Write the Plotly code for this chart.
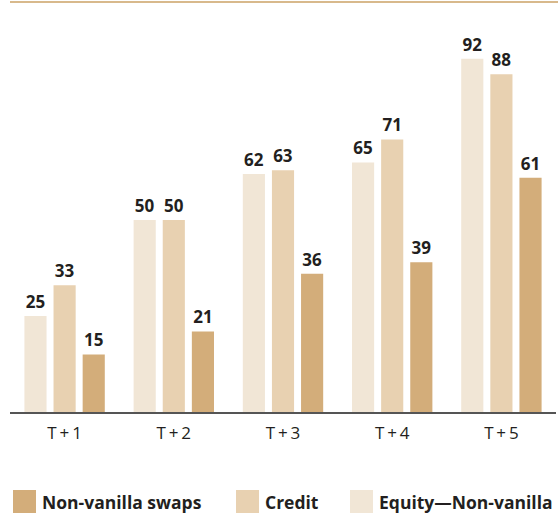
import plotly.graph_objects as go

categories = ["T\u2006+\u20061", "T\u2006+\u20062", "T\u2006+\u20063", "T\u2006+\u20064", "T\u2006+\u20065"]
equity = [25, 50, 62, 65, 92]
credit = [33, 50, 63, 71, 88]
nonvanilla = [15, 21, 36, 39, 61]

series = [
    ("Equity\u2014Non-vanilla", equity, "#F1E6D6"),
    ("Credit", credit, "#E8D1B1"),
    ("Non-vanilla swaps", nonvanilla, "#D3AD7A"),
]

fig = go.Figure()
for name, vals, col in series:
    fig.add_trace(go.Bar(
        x=categories, y=vals, name=name, marker=dict(color=col, line=dict(width=0)),
        text=[str(v) for v in vals], textposition="outside",
        textfont=dict(family="Open Sans", size=17, color="#231F20", weight="bold"),
        cliponaxis=False, showlegend=False,
    ))

W, H = 560, 513
ml, mr, mt, mb = 10, 4, 2, 101
pw = W - ml - mr
ph = H - mt - mb

def px2x(px):
    return (px - ml) / pw

def px2y(py):
    return (H - mb - py) / ph

shapes = [
    dict(type="line", xref="paper", yref="paper", x0=px2x(10), x1=px2x(558), y0=px2y(2), y1=px2y(2),
         line=dict(color="#D8B98C", width=2)),
]
annotations = []
legend_items = [(series[2][0], series[2][2], 13), (series[1][0], series[1][2], 236), (series[0][0], series[0][2], 350)]
for name, col, lx in legend_items:
    shapes.append(dict(type="rect", xref="paper", yref="paper", x0=px2x(lx), x1=px2x(lx + 23),
                       y0=px2y(514), y1=px2y(490), line=dict(width=0), fillcolor=col))
    annotations.append(dict(xref="paper", yref="paper", x=px2x(lx + 27), y=px2y(502), text="<b>" + name + "</b>",
                            showarrow=False, xanchor="left", yanchor="middle",
                            font=dict(family="Open Sans", size=17.5, color="#231F20")))

fig.update_layout(
    width=W, height=H, margin=dict(l=ml, r=mr, t=mt, b=mb),
    paper_bgcolor="white", plot_bgcolor="white",
    barmode="group", bargap=0.2, bargroupgap=0.24,
    xaxis=dict(showgrid=False, showline=True, linecolor="#555555", linewidth=1.5, ticks="",
               tickfont=dict(family="Open Sans", size=17, color="#231F20"), ticklabelstandoff=5),
    yaxis=dict(range=[0, 106.8], visible=False, showgrid=False),
    shapes=shapes, annotations=annotations,
)
fig.write_html("out.html")
